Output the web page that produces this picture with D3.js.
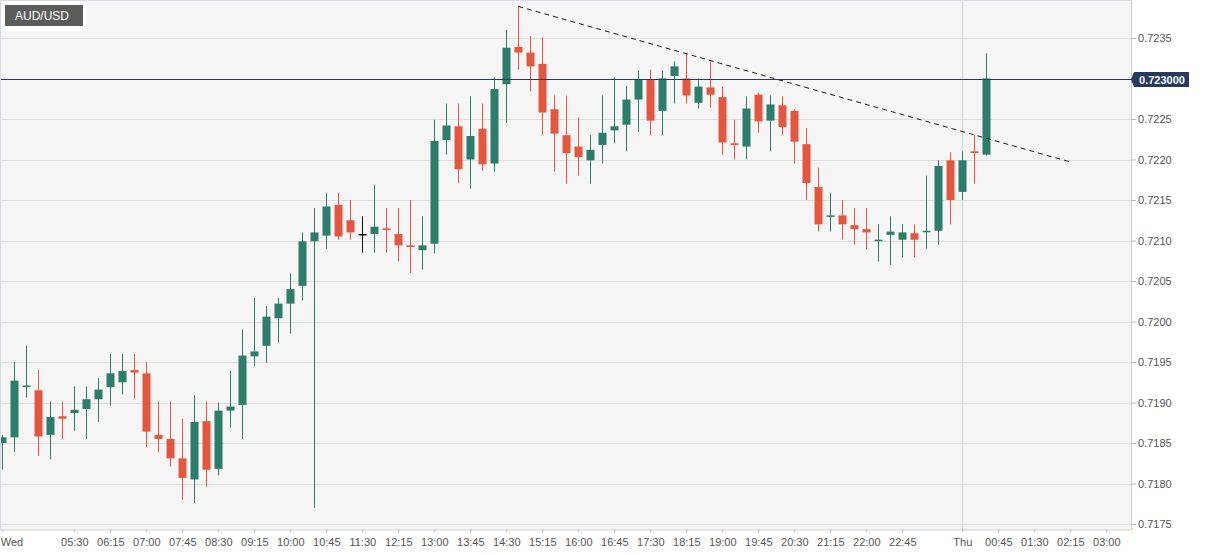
<!DOCTYPE html>
<html>
<head>
<meta charset="utf-8">
<script src="https://cdn.jsdelivr.net/npm/d3@7"></script>
<style>
  body { margin: 0; background: #ffffff; }
  text { font-family: "Liberation Sans", Arial, sans-serif; }
</style>
</head>
<body>
<div id="canvas"></div>
<script>
"use strict"

/* Data: AUD/USD 15 minute candles, Wed 04:00 to Thu 00:30 */
let symbol = "AUD/USD";
let firstCandle = "2021-02-03 04:00";
let candleMinutes = 15;

let opens = [
  0.71850, 0.71857, 0.71920, 0.71915, 0.71860, 0.71883, 0.71887, 0.71892, 0.71904, 0.71919,
  0.71925, 0.71940, 0.71936, 0.71860, 0.71855, 0.71831, 0.71805, 0.71877, 0.71818, 0.71890,
  0.71897, 0.71957, 0.71970, 0.72004, 0.72022, 0.72044, 0.72099, 0.72106, 0.72144, 0.72125,
  0.72108, 0.72108, 0.72115, 0.72108, 0.72094, 0.72088, 0.72096, 0.72224, 0.72241, 0.72200,
  0.72238, 0.72195, 0.72293, 0.72339, 0.72332, 0.72318, 0.72262, 0.72230, 0.72216, 0.72199,
  0.72218, 0.72236, 0.72243, 0.72274, 0.72299, 0.72260, 0.72303, 0.72300, 0.72270, 0.72289,
  0.72277, 0.72220, 0.72216, 0.72280, 0.72248, 0.72267, 0.72260, 0.72219, 0.72166, 0.72130,
  0.72131, 0.72119, 0.72114, 0.72100, 0.72107, 0.72101, 0.72109, 0.72111, 0.72112, 0.72199,
  0.72160, 0.72210, 0.72206
];
let highs = [
  0.71860, 0.71950, 0.71970, 0.71940, 0.71901, 0.71901, 0.71920, 0.71920, 0.71930, 0.71960,
  0.71960, 0.71960, 0.71950, 0.71901, 0.71901, 0.71880, 0.71909, 0.71901, 0.71900, 0.71939,
  0.71990, 0.72029, 0.72019, 0.72029, 0.72059, 0.72110, 0.72140, 0.72159, 0.72159, 0.72150,
  0.72130, 0.72169, 0.72140, 0.72140, 0.72150, 0.72130, 0.72249, 0.72269, 0.72269, 0.72278,
  0.72269, 0.72301, 0.72360, 0.72389, 0.72352, 0.72351, 0.72279, 0.72279, 0.72252, 0.72230,
  0.72279, 0.72301, 0.72291, 0.72310, 0.72311, 0.72310, 0.72321, 0.72331, 0.72300, 0.72321,
  0.72290, 0.72249, 0.72278, 0.72282, 0.72279, 0.72278, 0.72262, 0.72239, 0.72190, 0.72159,
  0.72150, 0.72140, 0.72140, 0.72120, 0.72130, 0.72120, 0.72120, 0.72180, 0.72199, 0.72209,
  0.72210, 0.72230, 0.72331
];
let lows = [
  0.71817, 0.71839, 0.71906, 0.71834, 0.71830, 0.71855, 0.71865, 0.71855, 0.71876, 0.71896,
  0.71910, 0.71905, 0.71845, 0.71839, 0.71821, 0.71780, 0.71776, 0.71796, 0.71810, 0.71869,
  0.71855, 0.71945, 0.71949, 0.71974, 0.71985, 0.72026, 0.71770, 0.72090, 0.72101, 0.72101,
  0.72085, 0.72085, 0.72085, 0.72074, 0.72060, 0.72064, 0.72084, 0.72206, 0.72171, 0.72164,
  0.72186, 0.72185, 0.72245, 0.72311, 0.72284, 0.72230, 0.72185, 0.72170, 0.72180, 0.72170,
  0.72195, 0.72220, 0.72210, 0.72234, 0.72230, 0.72230, 0.72269, 0.72269, 0.72263, 0.72264,
  0.72206, 0.72200, 0.72200, 0.72233, 0.72210, 0.72230, 0.72195, 0.72150, 0.72111, 0.72111,
  0.72101, 0.72095, 0.72089, 0.72074, 0.72070, 0.72079, 0.72079, 0.72090, 0.72095, 0.72120,
  0.72150, 0.72170, 0.72205
];
let closes = [
  0.71857, 0.71927, 0.71921, 0.71858, 0.71882, 0.71880, 0.71891, 0.71904, 0.71916, 0.71936,
  0.71939, 0.71937, 0.71864, 0.71855, 0.71831, 0.71807, 0.71876, 0.71817, 0.71890, 0.71895,
  0.71958, 0.71963, 0.72006, 0.72022, 0.72040, 0.72099, 0.72110, 0.72142, 0.72105, 0.72110,
  0.72108, 0.72117, 0.72113, 0.72094, 0.72092, 0.72094, 0.72223, 0.72242, 0.72188, 0.72229,
  0.72194, 0.72287, 0.72338, 0.72332, 0.72315, 0.72258, 0.72232, 0.72208, 0.72203, 0.72212,
  0.72233, 0.72241, 0.72274, 0.72299, 0.72248, 0.72300, 0.72315, 0.72279, 0.72290, 0.72280,
  0.72221, 0.72218, 0.72263, 0.72247, 0.72268, 0.72240, 0.72222, 0.72171, 0.72120, 0.72131,
  0.72120, 0.72114, 0.72110, 0.72101, 0.72111, 0.72110, 0.72101, 0.72112, 0.72192, 0.72150,
  0.72199, 0.72208, 0.72300
];

/* Last price line */
let lastPrice = 0.7230;

/* Dashed trend line: two points [time, price] */
let trendTimes = ["2021-02-03 14:45", "2021-02-04 02:15"];
let trendPrices = [0.72389, 0.72197];

/* Axis ticks */
let yTicks = [0.7175, 0.7180, 0.7185, 0.7190, 0.7195, 0.7200, 0.7205, 0.7210,
              0.7215, 0.7220, 0.7225, 0.7235];
let xTickTimes = [
  "2021-02-03 04:00", "2021-02-03 05:30", "2021-02-03 06:15", "2021-02-03 07:00",
  "2021-02-03 07:45", "2021-02-03 08:30", "2021-02-03 09:15", "2021-02-03 10:00",
  "2021-02-03 10:45", "2021-02-03 11:30", "2021-02-03 12:15", "2021-02-03 13:00",
  "2021-02-03 13:45", "2021-02-03 14:30", "2021-02-03 15:15", "2021-02-03 16:00",
  "2021-02-03 16:45", "2021-02-03 17:30", "2021-02-03 18:15", "2021-02-03 19:00",
  "2021-02-03 19:45", "2021-02-03 20:30", "2021-02-03 21:15", "2021-02-03 22:00",
  "2021-02-03 22:45", "2021-02-04 00:00", "2021-02-04 00:45", "2021-02-04 01:30",
  "2021-02-04 02:15", "2021-02-04 03:00"
];
let xTickLabels = [
  "Wed", "05:30", "06:15", "07:00", "07:45", "08:30", "09:15", "10:00", "10:45", "11:30",
  "12:15", "13:00", "13:45", "14:30", "15:15", "16:00", "16:45", "17:30", "18:15", "19:00",
  "19:45", "20:30", "21:15", "22:00", "22:45", "Thu", "00:45", "01:30", "02:15", "03:00"
];
let dayBreak = "2021-02-04 00:00";

/* Configuration variables: drawing */
let svgWidth = 1207;
let svgHeight = 555;
let plotRight = 1131;
let plotBottom = 530;
let bodyWidth = 8;
let green = "#2e7d6b";
let red = "#e2573f";

let parseTime = d3.timeParse("%Y-%m-%d %H:%M");
let startTime = parseTime(firstCandle);

/* Build candle rows from the arrays */
let candles = opens.map(function (o, i) {
  return {
    time: d3.timeMinute.offset(startTime, i * candleMinutes),
    open: o, high: highs[i], low: lows[i], close: closes[i]
  };
});

let svg = d3.select("#canvas")
    .append("svg")
    .attr("width", svgWidth)
    .attr("height", svgHeight);

/* Scales: 15 minutes = 12px */
let xScale = d3.scaleTime()
    .domain([startTime, parseTime(dayBreak)])
    .range([2.3, 962.3]);

let yScale = d3.scaleLinear()
    .domain([0.7175, 0.7235])
    .range([524, 38]);

/* Plot background */
svg.append("rect")
    .attr("x", 0)
    .attr("y", 0)
    .attr("width", plotRight)
    .attr("height", plotBottom)
    .attr("fill", "#f5f5f6");

svg.append("defs").append("clipPath")
    .attr("id", "plotClip")
    .append("rect")
    .attr("width", plotRight)
    .attr("height", plotBottom);

let plot = svg.append("g").attr("clip-path", "url(#plotClip)");

/* Horizontal grid lines */
plot.selectAll(".grid")
    .data(yTicks)
    .join("line")
    .attr("x1", 0)
    .attr("x2", plotRight)
    .attr("y1", function (d) { return Math.round(yScale(d)) + 0.5; })
    .attr("y2", function (d) { return Math.round(yScale(d)) + 0.5; })
    .attr("stroke", "#dedede");

/* Day separator */
plot.append("line")
    .attr("x1", Math.round(xScale(parseTime(dayBreak))) + 0.5)
    .attr("x2", Math.round(xScale(parseTime(dayBreak))) + 0.5)
    .attr("y1", 0)
    .attr("y2", plotBottom)
    .attr("stroke", "#d2d2d2");

/* Plot borders */
svg.append("line")
    .attr("x1", 0).attr("x2", plotRight)
    .attr("y1", 0.5).attr("y2", 0.5)
    .attr("stroke", "#d9d9e6");
svg.append("line")
    .attr("x1", 0.5).attr("x2", 0.5)
    .attr("y1", 0).attr("y2", plotBottom)
    .attr("stroke", "#d9d9e6");
svg.append("line")
    .attr("x1", plotRight + 0.5).attr("x2", plotRight + 0.5)
    .attr("y1", 0).attr("y2", plotBottom)
    .attr("stroke", "#cccccc");

function candleColor(d) {
  if (d.close > d.open) return green;
  if (d.close < d.open) return red;
  return "#111111";
}

/* Wicks */
plot.selectAll(".wick")
    .data(candles)
    .join("line")
    .attr("x1", function (d) { return Math.round(xScale(d.time)) + 0.5; })
    .attr("x2", function (d) { return Math.round(xScale(d.time)) + 0.5; })
    .attr("y1", function (d) { return yScale(d.high); })
    .attr("y2", function (d) { return yScale(d.low); })
    .attr("stroke", candleColor)
    .attr("stroke-width", 1);

/* Bodies */
plot.selectAll(".body")
    .data(candles)
    .join("rect")
    .attr("x", function (d) { return Math.round(xScale(d.time)) + 0.5 - bodyWidth / 2; })
    .attr("width", bodyWidth)
    .attr("y", function (d) { return yScale(Math.max(d.open, d.close)); })
    .attr("height", function (d) {
      return Math.max(1.5, Math.abs(yScale(d.open) - yScale(d.close)));
    })
    .attr("fill", candleColor);

/* Trend line */
plot.append("line")
    .attr("x1", xScale(parseTime(trendTimes[0])))
    .attr("y1", yScale(trendPrices[0]))
    .attr("x2", xScale(parseTime(trendTimes[1])))
    .attr("y2", yScale(trendPrices[1]))
    .attr("stroke", "#1a1a1a")
    .attr("stroke-width", 1)
    .attr("stroke-dasharray", "5,4");

/* Last price line */
let lastY = Math.round(yScale(lastPrice)) + 0.5;
plot.append("line")
    .attr("x1", 0)
    .attr("x2", plotRight)
    .attr("y1", lastY)
    .attr("y2", lastY)
    .attr("stroke", "#243a5e")
    .attr("stroke-width", 1.2);

/* Y axis on the right */
let yAxis = d3.axisRight(yScale)
    .tickValues(yTicks)
    .tickSize(5)
    .tickPadding(2)
    .tickFormat(d3.format(".4f"));

let yAxisGroup = svg.append("g")
    .attr("transform", "translate(" + plotRight + ",0)")
    .call(yAxis);
yAxisGroup.select(".domain").remove();
yAxisGroup.selectAll("line").attr("stroke", "#bbbbbb");
yAxisGroup.selectAll("text")
    .attr("fill", "#555555")
    .style("font-size", "11px")
    .style("font-family", "'Liberation Sans', Arial, sans-serif");

/* X axis */
let xAxis = d3.axisBottom(xScale)
    .tickValues(xTickTimes.map(parseTime))
    .tickSize(3)
    .tickPadding(6)
    .tickFormat(function (d, i) { return xTickLabels[i]; });

let xAxisGroup = svg.append("g")
    .attr("transform", "translate(0," + (plotBottom - 0.5) + ")")
    .call(xAxis);
xAxisGroup.select(".domain")
    .attr("d", "M0,0.5H" + plotRight)
    .attr("stroke", "#cfcfcf");
xAxisGroup.selectAll("line").attr("stroke", "#bbbbbb");
xAxisGroup.selectAll("text")
    .attr("fill", "#555555")
    .style("font-size", "11px")
    .style("font-family", "'Liberation Sans', Arial, sans-serif");
/* keep the first label inside the chart */
xAxisGroup.selectAll("text")
    .filter(function (d, i) { return i === 0; })
    .attr("text-anchor", "start")
    .attr("x", -2);

/* Last price tag */
let tagX = plotRight;
svg.append("path")
    .attr("d", "M" + tagX + "," + lastY +
               " L" + (tagX + 3) + "," + (lastY - 7.5) +
               " L" + (tagX + 58) + "," + (lastY - 7.5) +
               " L" + (tagX + 58) + "," + (lastY + 7.5) +
               " L" + (tagX + 3) + "," + (lastY + 7.5) + " Z")
    .attr("fill", "#243a5e");

svg.append("text")
    .attr("x", tagX + 31)
    .attr("y", lastY + 4)
    .attr("text-anchor", "middle")
    .attr("fill", "#ffffff")
    .style("font-size", "11px")
    .style("font-weight", "bold")
    .text(d3.format(".6f")(lastPrice));

/* Symbol badge */
svg.append("rect")
    .attr("x", 1)
    .attr("y", 1)
    .attr("width", 86)
    .attr("height", 30)
    .attr("fill", "#ffffff")
    .attr("opacity", 0.85);

svg.append("rect")
    .attr("x", 5)
    .attr("y", 5)
    .attr("width", 78)
    .attr("height", 21)
    .attr("fill", "#5c5c5c");

svg.append("text")
    .attr("x", 15)
    .attr("y", 20)
    .attr("fill", "#ffffff")
    .style("font-size", "12px")
    .text(symbol);
</script>
</body>
</html>
